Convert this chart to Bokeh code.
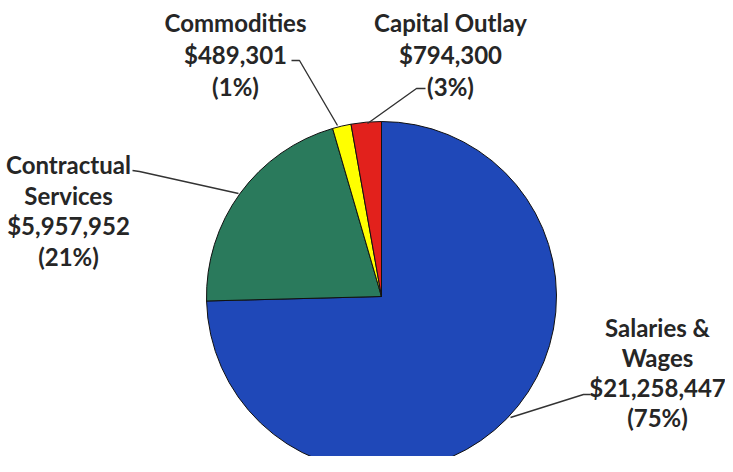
import math
from bokeh.plotting import figure
from bokeh.models import Range1d, ColumnDataSource
from bokeh.core.properties import value
from bokeh.embed import file_html
from bokeh.resources import INLINE

# ---- data ----
categories = ["Salaries &\nWages", "Contractual\nServices", "Commodities", "Capital Outlay"]
amounts = [21258447, 5957952, 489301, 794300]
pct_labels = ["75%", "21%", "1%", "3%"]
colors = ["#1F48B8", "#2A7A5C", "#FFFF00", "#E2211C"]

# ---- layout (figure pixel coordinates, y downwards) ----
W, H = 725, 456
cx, cy, r = 381, 296, 175
label_anchor = [(657, 327), (68, 164), (235, 22), (450, 22)]
line_gaps = [30, 30.5, 32, 32]
leaders = [
    [(590, 394), (583, 394), (510, 417)],
    [(132, 170), (139, 171), (238, 193)],
    [(291, 60), (299, 60), (337, 125)],
    [(425, 88), (416, 88), (367, 123)],
]

def fy(py):
    return H - py

p = figure(width=W, height=H, output_backend="svg", toolbar_location=None,
           x_range=Range1d(0, W), y_range=Range1d(0, H), min_border=0)
p.axis.visible = False
p.grid.visible = False
p.outline_line_color = None
p.background_fill_color = "white"

total = sum(amounts)
starts, ends = [], []
cum = 0.0
for a in amounts:
    starts.append(math.pi / 2 - 2 * math.pi * cum / total)
    cum += a
    ends.append(math.pi / 2 - 2 * math.pi * cum / total)

src = ColumnDataSource(dict(x=[cx] * 4, y=[fy(cy)] * 4, start=starts, end=ends, color=colors))
p.wedge(x="x", y="y", radius=r, start_angle="start", end_angle="end", direction="clock",
        fill_color="color", line_color="#111111", line_width=1, source=src)

# leader lines
p.multi_line(xs=[[pt[0] for pt in L] for L in leaders],
             ys=[[fy(pt[1]) for pt in L] for L in leaders],
             line_color="#333333", line_width=1.4)

# labels
tx, ty, tt = [], [], []
for i, cat in enumerate(categories):
    lines = cat.split("\n") + ["${:,}".format(amounts[i]), "(" + pct_labels[i] + ")"]
    ax, ay = label_anchor[i]
    for k, ln in enumerate(lines):
        tx.append(ax)
        ty.append(fy(ay + k * line_gaps[i]))
        tt.append(ln)
p.text(x=tx, y=ty, text=tt, text_font=value("Lato"), text_font_style="bold",
       text_font_size="24px", text_color="#262626", text_align="center",
       text_baseline="middle")

open("out.html", "w").write(file_html(p, INLINE))
